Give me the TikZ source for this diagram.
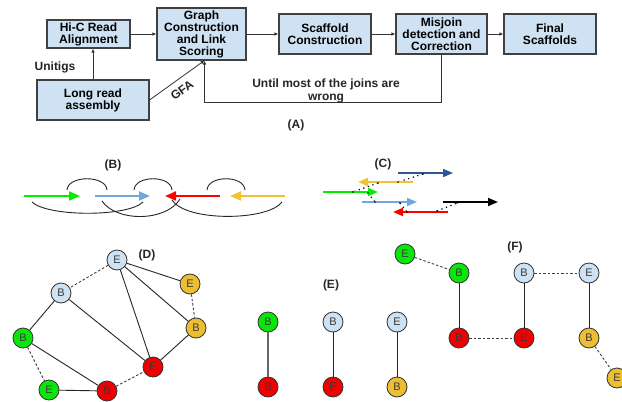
\documentclass[tikz,border=0pt]{standalone}
\usepackage{fontspec}
\setmainfont{Liberation Sans}
\usetikzlibrary{arrows.meta}
\definecolor{boxfill}{HTML}{CFE2F3}
\definecolor{boxline}{HTML}{404040}
\definecolor{lbnode}{HTML}{CFE2F3}
\definecolor{gnode}{HTML}{0AE60A}
\definecolor{rnode}{HTML}{F00000}
\definecolor{ynode}{HTML}{EDBE32}
\definecolor{nodeline}{HTML}{333333}
\definecolor{nodetext}{HTML}{3A3A3A}
\definecolor{cgreen}{HTML}{00F000}
\definecolor{cblue}{HTML}{6FA8DC}
\definecolor{cred}{HTML}{FF0000}
\definecolor{cyellow}{HTML}{F1C232}
\definecolor{cnavy}{HTML}{2F5597}
\begin{document}
\begin{tikzpicture}[x=1pt,y=-1pt,
  box/.style={draw=boxline, line width=1.1pt, fill=boxfill, font=\bfseries\fontsize{12}{12}\selectfont, align=center, inner sep=0pt},
  arr/.style={draw=black!80, line width=0.8pt, -{Latex[length=4pt,width=3.5pt]}},
  lab/.style={font=\bfseries\fontsize{12}{13}\selectfont, align=center, text=black!85},
  gn/.style={circle, draw=nodeline, line width=0.8pt, minimum size=20pt, inner sep=0pt, font=\fontsize{11}{11}\selectfont, text=nodetext},
  lbn/.style={gn, fill=lbnode},
  grn/.style={gn, fill=gnode},
  rdn/.style={gn, fill=rnode},
  ywn/.style={gn, fill=ynode},
  ge/.style={draw=black!85, line width=0.9pt},
  gd/.style={draw=black!75, line width=0.9pt, dash pattern=on 2.5pt off 2pt},
  barr/.style={line width=2pt, -{Triangle[length=11pt,width=9pt]}},
  carr/.style={line width=1.8pt, -{Triangle[length=10pt,width=8pt]}},
  arc/.style={draw=black!85, line width=0.9pt},
  dots/.style={draw=black, line width=1.2pt, dash pattern=on 1.2pt off 3.6pt}
]
\clip (0,0) rectangle (622,402);
\fill[white] (0,0) rectangle (622,402);

% ---------------- Panel A ----------------
\node[box, minimum width=83pt, minimum height=28pt] (hic) at (88.5,34) {Hi-C Read\\Alignment};
\node[box, minimum width=89pt, minimum height=52pt] (graph) at (201.5,34) {Graph\\Construction\\and Link\\Scoring};
\node[box, minimum width=92pt, minimum height=40pt] (scaf) at (325,34) {Scaffold\\Construction};
\node[box, minimum width=91pt, minimum height=40pt] (mis) at (441.5,34) {Misjoin\\detection and\\Correction};
\node[box, minimum width=92pt, minimum height=40pt] (final) at (550,34) {Final\\Scaffolds};
\node[box, minimum width=112pt, minimum height=40pt] (long) at (93,100) {Long read\\assembly};

\draw[arr] (hic) -- (graph);
\draw[arr] (graph) -- (scaf);
\draw[arr] (scaf) -- (mis);
\draw[arr] (mis) -- (final);
\draw[arr] (long.north) -- (hic.south -| long.north);
\coordinate (gin) at (204.5,60.5);
\coordinate (fb) at (204.5,102);
\draw[arr] (long.east) -- (gin);
\draw[arr] (mis.south) |- (fb) -- (gin);

\node[lab] (unitigs) at (55,67) {Unitigs};
\node[lab, rotate=35, inner sep=0pt] (gfa) at (182,90) {GFA};
\node[lab] (until) at (326,90.5) {Until most of the joins are\\wrong};
\node[lab] (la) at (296,125) {(A)};

% ---------------- Panel B ----------------
\node[lab] (lb) at (113,165) {(B)};
\draw[barr, cgreen] (24,196) -- (80,196);
\draw[barr, cblue] (95,196) -- (150,196);
\draw[barr, cred] (220,196) -- (165,196);
\draw[barr, cyellow] (285,196) -- (230,196);
\draw[arc] (67,190) .. controls (68,175) and (106,175) .. (107,190);
\draw[arc] (134,190) .. controls (135,175) and (171,175) .. (172,190);
\draw[arc] (207,190) .. controls (208,175) and (244,175) .. (245,190);
\draw[arc] (32,202) .. controls (48,217) and (128,217) .. (143,202);
\draw[arc] (102,201) .. controls (116,222) and (166,222) .. (180,199);
\draw[arc] (172,200) .. controls (186,222) and (268,221) .. (282,202);

% ---------------- Panel C ----------------
\node[lab] (lc) at (383,164) {(C)};
\draw[dots] (423,174) -- (398,182);
\draw[dots] (378,183) -- (353,192);
\draw[dots] (368,193) -- (375,202);
\draw[dots] (400,203) -- (407,212);
\draw[dots] (437,211) -- (457,203);
\draw[carr, cnavy] (398,173) -- (453,173);
\draw[carr, cyellow] (413,182) -- (358,182);
\draw[carr, cgreen] (323,192) -- (378,192);
\draw[carr, cblue] (362,202) -- (417,202);
\draw[carr, cred] (448,212) -- (393,212);
\draw[carr, black] (443,202) -- (498,202);
\foreach \p in {(423,174),(398,182),(378,183),(353,192),(368,193),(375,202),(400,203),(407,212),(437,211),(457,203)}
  \fill[black] \p circle (0.9pt);

% ---------------- Panel D ----------------
\node[lab] (ld) at (147,255) {(D)};
\node[lbn] (dE1) at (117,260) {E};
\node[lbn] (dB1) at (61,293) {B};
\node[ywn] (dE2) at (190,284) {E};
\node[ywn] (dB2) at (196,328) {B};
\node[grn] (dB3) at (23,338) {B};
\node[rdn] (dE4) at (153,367) {E};
\node[grn] (dE3) at (49,390) {E};
\node[rdn] (dB4) at (107,391) {B};
\draw[gd] (dE1) -- (dB1);
\draw[ge] (dE1) -- (dE2);
\draw[ge] (dE1) -- (dE4);
\draw[ge] (dE1) -- (dB2);
\draw[ge] (dB1) -- (dB3);
\draw[ge] (dB1) -- (dE4);
\draw[gd] (dE2) -- (dB2);
\draw[ge] (dB2) -- (dE4);
\draw[gd] (dB3) -- (dE3);
\draw[ge] (dB3) -- (dB4);
\draw[ge] (dE3) -- (dB4);
\draw[gd] (dB4) -- (dE4);

% ---------------- Panel E ----------------
\node[lab] (le) at (331,285) {(E)};
\node[grn] (eB1) at (268,322) {B};
\node[rdn] (eB2) at (268,387) {B};
\node[lbn] (eB3) at (333,322) {B};
\node[rdn] (eE3) at (333,387) {E};
\node[lbn] (eE4) at (397,322) {E};
\node[ywn] (eB4) at (397,387) {B};
\draw[draw=black!60, line width=1.4pt] (eB1) -- (eB2);
\draw[ge] (eB3) -- (eE3);
\draw[ge] (eE4) -- (eB4);

% ---------------- Panel F ----------------
\node[lab] (lf) at (515,247) {(F)};
\node[grn] (fE1) at (405,254) {E};
\node[grn] (fB1) at (459,273) {B};
\node[rdn] (fB2) at (459,338) {B};
\node[rdn] (fE2) at (524,338) {E};
\node[lbn] (fB3) at (524,273) {B};
\node[lbn] (fE3) at (589,273) {E};
\node[ywn] (fB4) at (589,338) {B};
\node[ywn] (fE4) at (617,378) {E};
\draw[gd] (fE1) -- (fB1);
\draw[ge] (fB1) -- (fB2);
\draw[gd] (fB2) -- (fE2);
\draw[ge] (fE2) -- (fB3);
\draw[gd] (fB3) -- (fE3);
\draw[ge] (fE3) -- (fB4);
\draw[gd] (fB4) -- (fE4);
\end{tikzpicture}
\end{document}
